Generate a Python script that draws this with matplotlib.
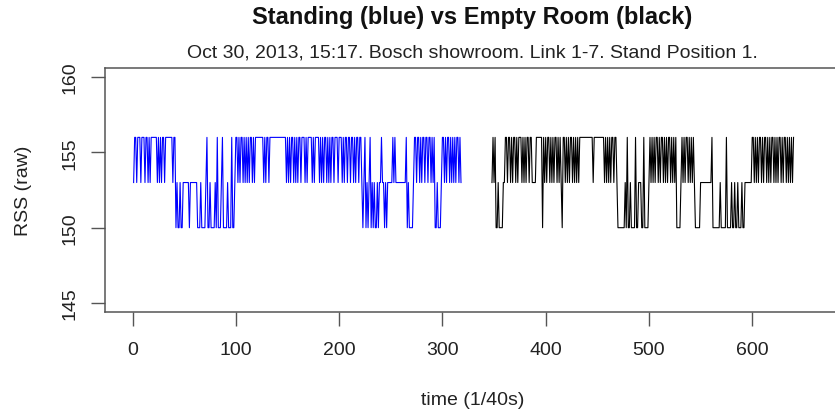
import matplotlib
matplotlib.use("Agg")
import matplotlib.pyplot as plt
import numpy as np

plt.rcParams['font.family'] = ['Liberation Sans', 'DejaVu Sans']

# RSS readings (raw units), one sample per 1/40 s
standing_rss = [
    153, 156, 156, 153, 156, 156, 156, 153, 156, 156,
    156, 153, 156, 156, 153, 156, 153, 156, 156, 156,
    156, 156, 156, 153, 156, 153, 156, 153, 156, 156,
    153, 156, 156, 156, 156, 156, 156, 156, 153, 156,
    156, 150, 153, 150, 150, 153, 150, 150, 153, 153,
    153, 153, 153, 153, 150, 153, 153, 153, 153, 153,
    153, 153, 150, 150, 150, 153, 150, 150, 150, 150,
    153, 156, 150, 150, 153, 150, 150, 150, 150, 153,
    150, 156, 150, 150, 150, 153, 156, 150, 150, 150,
    150, 153, 150, 150, 150, 156, 150, 150, 153, 156,
    156, 153, 156, 153, 156, 156, 153, 156, 153, 156,
    153, 156, 153, 156, 156, 153, 156, 153, 156, 156,
    156, 156, 156, 156, 156, 156, 153, 156, 153, 156,
    156, 153, 156, 156, 156, 156, 156, 156, 156, 156,
    156, 156, 156, 156, 156, 156, 156, 156, 153, 156,
    153, 156, 153, 156, 156, 153, 156, 153, 156, 153,
    156, 156, 153, 156, 156, 156, 153, 156, 153, 156,
    156, 156, 156, 153, 156, 153, 156, 156, 156, 156,
    153, 156, 153, 156, 153, 156, 156, 153, 156, 153,
    156, 153, 156, 156, 153, 156, 156, 156, 153, 156,
    156, 156, 153, 156, 153, 156, 156, 153, 156, 156,
    153, 156, 156, 153, 156, 153, 156, 156, 153, 156,
    156, 153, 150, 153, 156, 150, 153, 150, 153, 156,
    150, 153, 150, 153, 150, 150, 153, 150, 153, 153,
    156, 153, 153, 150, 153, 150, 153, 153, 153, 153,
    153, 156, 153, 156, 153, 153, 153, 153, 153, 153,
    153, 153, 153, 153, 156, 150, 153, 150, 150, 150,
    150, 153, 156, 156, 153, 156, 156, 153, 156, 153,
    156, 156, 153, 156, 156, 153, 156, 156, 153, 156,
    153, 156, 150, 150, 153, 150, 150, 150, 153, 156,
    156, 153, 156, 153, 156, 156, 153, 156, 153, 156,
    153, 156, 153, 156, 156, 153, 156, 153,
]

empty_rss = [
    153, 156, 153, 156, 150, 150, 153, 150, 150, 150,
    150, 153, 153, 156, 156, 153, 156, 156, 153, 156,
    153, 156, 156, 153, 156, 153, 156, 156, 156, 153,
    156, 153, 156, 153, 156, 156, 153, 156, 156, 153,
    153, 153, 153, 156, 156, 156, 156, 156, 156, 150,
    156, 153, 156, 153, 156, 156, 153, 156, 153, 156,
    153, 156, 156, 153, 156, 153, 156, 153, 150, 156,
    156, 153, 156, 153, 156, 153, 156, 156, 153, 156,
    153, 156, 153, 156, 153, 156, 156, 156, 156, 156,
    156, 156, 156, 156, 156, 156, 156, 156, 153, 156,
    156, 156, 156, 156, 156, 156, 156, 156, 156, 153,
    156, 153, 156, 153, 156, 153, 156, 156, 153, 156,
    156, 153, 150, 150, 150, 150, 150, 150, 150, 153,
    150, 156, 150, 150, 153, 150, 150, 150, 150, 156,
    150, 150, 153, 153, 153, 150, 150, 156, 150, 150,
    150, 150, 153, 156, 153, 156, 153, 156, 153, 156,
    156, 153, 156, 153, 156, 156, 153, 156, 153, 156,
    153, 156, 156, 153, 156, 153, 156, 153, 156, 150,
    150, 150, 150, 153, 156, 153, 156, 153, 156, 156,
    153, 156, 153, 156, 153, 156, 153, 150, 150, 150,
    150, 150, 153, 153, 153, 153, 153, 153, 153, 153,
    153, 153, 153, 156, 150, 150, 150, 150, 150, 150,
    150, 153, 150, 150, 150, 150, 150, 156, 150, 150,
    150, 150, 153, 150, 150, 153, 150, 150, 153, 150,
    150, 150, 153, 150, 150, 153, 153, 153, 153, 153,
    153, 153, 156, 156, 153, 156, 153, 156, 153, 156,
    156, 153, 156, 153, 156, 156, 153, 156, 153, 156,
    153, 156, 156, 153, 156, 153, 156, 153, 156, 156,
    153, 156, 153, 156, 156, 153, 156, 153, 156, 153,
    156, 153, 156,
]

standing_start = 1
empty_start = 348

standing_t = np.arange(len(standing_rss)) + standing_start
empty_t = np.arange(len(empty_rss)) + empty_start

x_ticks = [0, 100, 200, 300, 400, 500, 600]
y_ticks = [145, 150, 155, 160]

fig = plt.figure(figsize=(8.35, 4.14), dpi=100)
# plot region runs slightly past the right edge of the canvas
ax = fig.add_axes([0.1254, 0.244, 0.8806, 0.589])

ax.plot(standing_t, standing_rss, color='#0000ff', lw=0.8)
ax.plot(empty_t, empty_rss, color='black', lw=0.8)

ax.set_xlim(-27, 685)
ax.set_ylim(144.4, 160.6)

ax.set_xticks(x_ticks)
ax.set_yticks(y_ticks)
ax.set_yticklabels([str(v) for v in y_ticks], rotation=90, va='center')
ax.tick_params(axis='both', direction='out', length=10, width=1,
               color='#555555', labelsize=14, labelcolor='#222222')
ax.tick_params(axis='x', pad=11)
ax.tick_params(axis='y', pad=9)

for side in ['left', 'top', 'bottom', 'right']:
    ax.spines[side].set_color('#555555')
    ax.spines[side].set_linewidth(1.1)

ax.set_xlabel('time (1/40s)', fontsize=14, color='#222222', labelpad=24)
ax.set_ylabel('RSS (raw)', fontsize=14, color='#222222', labelpad=21)

fig.text(0.566, 0.958, 'Standing (blue) vs Empty Room (black)',
         ha='center', va='center', fontsize=17, fontweight='bold',
         color='#111111')
fig.text(0.566, 0.873,
         'Oct 30, 2013, 15:17. Bosch showroom. Link 1-7. Stand Position 1.',
         ha='center', va='center', fontsize=14, color='#222222')

fig.savefig('out.png', dpi=100)
